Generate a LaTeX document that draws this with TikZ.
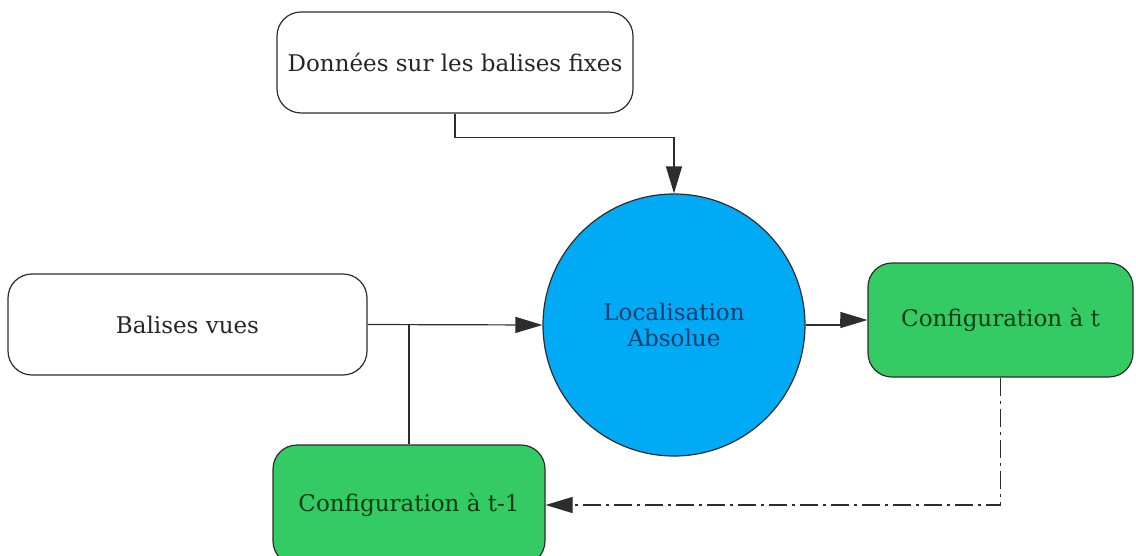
\documentclass[tikz,border=0pt]{standalone}
\usepackage{fontspec}
\setmainfont{DejaVu Serif}
\usetikzlibrary{arrows.meta}
\definecolor{boitevert}{RGB}{52,202,100}
\definecolor{boitebleu}{RGB}{0,170,245}
\definecolor{textevert}{RGB}{8,60,20}
\definecolor{textebleu}{RGB}{10,60,110}
\definecolor{trait}{RGB}{45,45,45}
\begin{document}
\begin{tikzpicture}[x=1pt,y=-1pt,
        every node/.style={font=\fontsize{23}{26}\selectfont},
        boite/.style={draw=trait,line width=1.2pt,rounded corners=24pt,align=center,inner sep=0pt},
        blanche/.style={boite,fill=white,text=black!85},
        verte/.style={boite,fill=boitevert,text=textevert},
        fleche/.style={draw=trait,line width=1.2pt,-{Triangle[length=27pt,width=16pt]}},
        lien/.style={draw=trait,line width=1.2pt}]
            \clip (0,0) rectangle (1136,555);
            \fill[white] (0,0) rectangle (1136,555);

            \node[blanche,minimum width=356pt,minimum height=101pt] (donnees) at (455,62.5) {Donn\'ees sur les balises fixes};
            \node[blanche,minimum width=359pt,minimum height=101pt] (balises) at (187.5,324.5) {Balises vues};
            \node[circle,draw=trait,line width=1.2pt,fill=boitebleu,text=textebleu,minimum size=262pt,align=center,inner sep=0pt] (loc) at (674,325) {Localisation\\Absolue};
            \node[verte,minimum width=265pt,minimum height=114pt] (cfgt) at (1000.5,320) {Configuration \`a t};
            \node[verte,minimum width=272pt,minimum height=120pt] (cfgtm) at (409,505) {Configuration \`a t-1};

            \draw[fleche] (donnees.south) -- ++(0,24) -| (loc.north);
            \draw[fleche] (balises.east) -- (loc.west);
            \draw[lien] (cfgtm.north) -- (cfgtm.north |- balises.east);
            \draw[fleche] (loc.east) -- ++(35,0) |- (cfgt.west);
            \draw[fleche,dash pattern=on 18pt off 5pt on 3pt off 5pt] (cfgt.south) |- (cfgtm.east);
        \end{tikzpicture}
\end{document}
